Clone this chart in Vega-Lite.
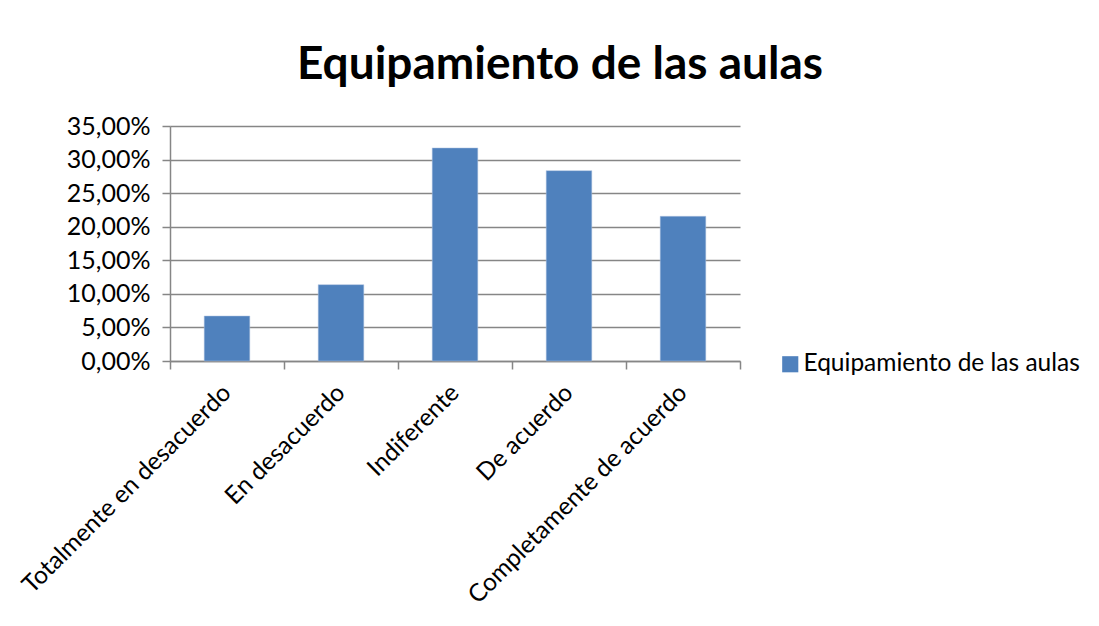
{
  "$schema": "https://vega.github.io/schema/vega-lite/v6.json",
  "width": 570,
  "height": 235,
  "autosize": "none",
  "padding": {"left": 170, "top": 126, "right": 359, "bottom": 265},
  "background": "white",
  "config": {
    "locale": {"number": {"decimal": ",", "thousands": ".", "grouping": [3], "currency": ["", " €"]}},
    "view": {"stroke": null},
    "font": "Lato"
  },
  "title": {
    "text": "Equipamiento de las aulas",
    "font": "Lato",
    "fontSize": 46,
    "fontWeight": "bold",
    "color": "black",
    "anchor": "middle",
    "dx": 105,
    "offset": 25
  },
  "data": {
    "values": [
      {"categoria": "Totalmente en desacuerdo", "valor": 0.0670, "serie": "Equipamiento de las aulas"},
      {"categoria": "En desacuerdo", "valor": 0.1137, "serie": "Equipamiento de las aulas"},
      {"categoria": "Indiferente", "valor": 0.3173, "serie": "Equipamiento de las aulas"},
      {"categoria": "De acuerdo", "valor": 0.2835, "serie": "Equipamiento de las aulas"},
      {"categoria": "Completamente de acuerdo", "valor": 0.2155, "serie": "Equipamiento de las aulas"}
    ]
  },
  "mark": {"type": "bar", "stroke": "#aec2e0", "strokeWidth": 0.5, "width": {"band": 0.4}},
  "encoding": {
    "x": {
      "field": "categoria",
      "type": "nominal",
      "sort": null,
      "title": null,
      "scale": {"paddingInner": 0, "paddingOuter": 0},
      "axis": {
        "labelAngle": -45,
        "labelAlign": "right",
        "labelBaseline": "middle",
        "labelFontSize": 24.5,
        "labelFont": "Lato",
        "labelColor": "black",
        "labelPadding": 20,
        "tickBand": "extent",
        "tickSize": 8,
        "tickColor": "#868686",
        "tickWidth": 1.5,
        "domainColor": "#868686",
        "domainWidth": 1.5,
        "labelLimit": 400
      }
    },
    "y": {
      "field": "valor",
      "type": "quantitative",
      "title": null,
      "scale": {"domain": [0, 0.35], "nice": false},
      "axis": {
        "format": ".2%",
        "values": [0, 0.05, 0.1, 0.15, 0.2, 0.25, 0.3, 0.35],
        "labelFontSize": 25,
        "labelFont": "Lato",
        "labelColor": "black",
        "labelPadding": 12,
        "tickSize": 8,
        "tickColor": "#868686",
        "tickWidth": 1.5,
        "domainColor": "#868686",
        "domainWidth": 1.5,
        "gridColor": "#868686",
        "gridWidth": 1.5
      }
    },
    "color": {
      "field": "serie",
      "type": "nominal",
      "scale": {"range": ["#4F81BD"]},
      "legend": {
        "title": null,
        "orient": "none",
        "legendX": 608,
        "legendY": 226,
        "symbolType": "square",
        "symbolSize": 260,
        "symbolStrokeWidth": 0,
        "labelFontSize": 24.5,
        "labelFont": "Lato",
        "labelColor": "black",
        "labelLimit": 400,
        "labelOffset": 1
      }
    }
  }
}
